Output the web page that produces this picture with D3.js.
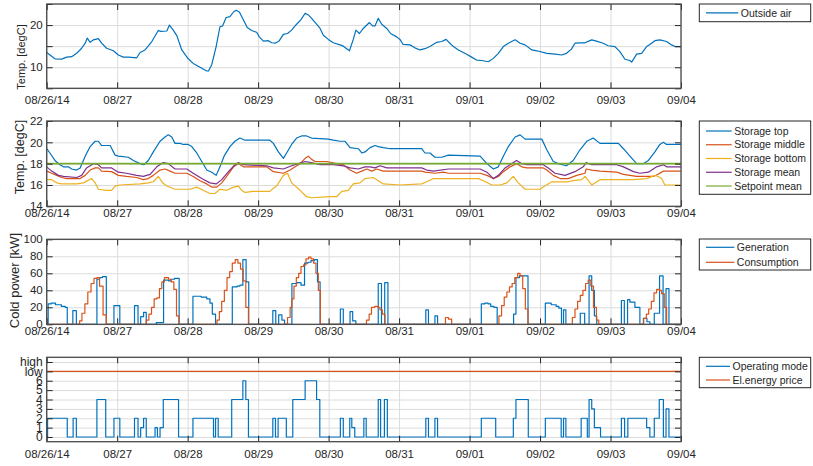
<!DOCTYPE html>
<html>
<head>
<meta charset="utf-8">
<script src="https://cdn.jsdelivr.net/npm/d3@7"></script>
<style>
  body { margin: 0; background: #fff; }
  svg { display: block; font-family: Arial, "Liberation Sans", sans-serif; }
</style>
</head>
<body>
<div id="chart"></div>
<script>
/**
 * Cold storage week overview - four stacked MATLAB-style panels
 * Time values are hours after 08/26/14 00:00.
 */

// X axis day ticks
const dayLabels = ['08/26/14', '08/27', '08/28', '08/29', '08/30', '08/31', '09/01', '09/02', '09/03', '09/04'];

// Panel 1: outside air [hour, degC]
const outsideAir = [[0,13.5],[2.8,12.0],[5.1,11.9],[5.7,12.1],[6.8,12.4],[8.5,12.5],[10.2,13.3],[11.9,14.5],[13.1,15.7],[13.8,16.9],[14.8,15.9],[15.9,16.5],[17.6,16.8],[18.7,15.7],[20.4,14.5],[22.7,13.9],[24.4,12.9],[26.1,12.4],[27.8,12.4],[30.6,12.2],[31.8,13.5],[33.5,14.1],[35.8,16.1],[36.9,17.4],[38.0,18.7],[38.9,18.5],[40.9,18.6],[41.8,20.0],[43.1,18.8],[44.3,17.5],[46.0,14.1],[48.2,12.0],[49.9,10.9],[52.2,10.0],[54.5,9.1],[55.1,9.1],[56.2,10.6],[57.7,14.9],[59.0,19.6],[59.9,19.8],[61.1,21.8],[62.4,22.0],[63.6,23.1],[64.5,23.5],[65.6,23.1],[67.0,21.2],[68.3,19.4],[69.8,18.7],[71.5,18.3],[72.4,17.2],[73.8,16.2],[75.5,16.3],[76.6,15.8],[77.8,15.7],[79.1,16.2],[80.6,17.8],[82.0,18.0],[83.4,18.8],[85.1,20.2],[86.6,21.3],[88.0,22.8],[89.1,22.4],[90.2,21.6],[91.9,20.2],[93.1,19.2],[94.2,17.6],[95.9,16.6],[97.6,15.8],[99.9,15.3],[101.0,15.0],[103.1,13.9],[104.4,16.6],[105.3,18.8],[106.5,18.0],[107.8,19.2],[109.9,20.6],[111.0,19.8],[111.8,19.8],[112.9,21.6],[114.1,20.2],[115.8,19.2],[117.1,18.0],[119.2,17.2],[120.3,16.6],[121.4,15.4],[123.7,15.3],[125.4,14.6],[127.1,14.1],[128.8,14.4],[130.5,14.9],[132.8,15.9],[134.5,16.1],[136.0,16.6],[137.3,15.7],[138.5,14.9],[140.2,14.1],[143.0,13.1],[144.7,12.4],[146.4,11.7],[148.1,11.6],[150.4,11.3],[152.1,12.1],[153.8,13.3],[155.5,14.9],[157.2,15.7],[159.5,16.5],[161.2,15.7],[162.9,15.3],[165.2,14.1],[166.9,13.9],[170.3,13.3],[173.2,13.1],[175.3,12.9],[177.0,13.3],[178.7,14.3],[179.9,15.7],[181.6,15.8],[183.3,15.8],[185.6,16.5],[187.2,16.2],[189.5,15.7],[191.2,15.1],[193.5,14.9],[195.2,13.7],[196.9,11.9],[198.6,11.6],[199.2,11.2],[200.9,13.1],[202.6,13.3],[204.3,14.9],[205.4,15.4],[207.1,16.3],[208.8,16.5],[211.1,16.1],[212.8,15.3],[214.0,14.9],[216.0,14.9]];

// Panel 2: storage temperatures [hour, degC]
const storageTop = [[0,19.4],[1.1,19.0],[2.8,18.3],[4.5,17.9],[5.7,17.7],[7.4,17.7],[8.5,17.5],[10.2,17.4],[11.4,17.6],[13.1,18.7],[14.8,19.6],[16.5,20.1],[17.6,20.1],[18.7,19.7],[21.6,19.7],[23.3,18.8],[24.4,18.7],[27.8,18.6],[29.5,18.3],[31.8,18.0],[33.1,17.9],[34.6,18.3],[36.3,19.1],[38.6,20.1],[40.3,20.5],[41.4,20.7],[42.6,20.5],[43.7,19.9],[45.4,19.9],[46.5,19.8],[48.2,19.8],[49.4,19.6],[51.1,19.0],[52.8,18.2],[54.5,17.4],[56.2,17.2],[57.7,16.9],[59.0,17.7],[60.4,18.7],[62.4,19.6],[64.1,20.1],[65.8,20.4],[67.5,20.2],[76.0,20.2],[77.2,19.9],[78.9,19.1],[80.6,18.5],[81.7,19.0],[83.4,19.8],[85.1,20.4],[86.8,20.6],[88.5,20.6],[90.2,20.4],[95.9,20.3],[97.6,20.2],[99.9,20.1],[101.6,20.1],[103.3,19.5],[106.1,19.4],[107.3,19.0],[108.4,19.1],[110.1,19.5],[111.8,19.7],[112.9,19.6],[114.6,19.5],[116.9,19.4],[127.7,19.4],[128.8,19.0],[130.5,19.0],[132.2,18.6],[134.5,18.6],[136.8,18.8],[147.6,18.7],[149.9,18.0],[152.1,17.5],[153.8,17.7],[155.5,18.7],[157.2,19.6],[159.5,20.5],[161.2,20.7],[162.9,20.3],[168.6,20.3],[170.3,19.3],[172.5,18.2],[174.2,18.0],[177.0,17.8],[179.3,18.3],[181.6,19.3],[183.9,20.1],[186.1,20.4],[188.4,19.9],[194.7,19.9],[196.4,19.4],[198.6,18.7],[200.9,18.0],[203.2,18.0],[204.9,18.3],[207.1,19.1],[208.8,19.8],[210.0,20.0],[211.1,19.8],[216.0,19.8]];
const storageMiddle = [[0,17.3],[1.7,17.1],[3.4,16.9],[5.1,16.7],[6.8,16.6],[11.4,16.6],[13.1,16.9],[14.8,17.4],[16.5,17.6],[17.6,17.6],[18.7,17.3],[22.1,17.25],[24.4,16.9],[27.2,16.8],[30.6,16.7],[32.9,16.5],[34.6,16.6],[36.3,16.9],[38.6,17.4],[40.3,17.5],[42.0,17.3],[43.7,17.1],[47.7,17.1],[49.9,16.8],[52.2,16.4],[54.5,16.1],[56.2,15.8],[57.9,15.8],[59.6,16.2],[61.3,16.8],[63.6,17.7],[65.3,18.0],[67.0,17.7],[74.9,17.7],[77.2,17.25],[80.6,17.1],[82.9,17.4],[84.6,17.7],[86.3,18.0],[88.0,18.5],[89.1,18.7],[90.2,18.4],[91.4,18.2],[95.3,18.2],[98.7,18.0],[101.0,17.9],[103.3,17.4],[105.5,17.1],[107.3,17.3],[109.0,17.5],[110.7,17.3],[112.4,17.5],[114.6,17.3],[127.7,17.3],[128.8,17.2],[132.2,17.1],[135.1,17.2],[136.8,17.1],[147.6,17.1],[149.9,16.9],[152.1,16.6],[153.8,16.8],[155.5,17.25],[157.8,17.7],[160.0,18.0],[161.8,17.7],[163.5,17.6],[169.1,17.6],[170.3,17.4],[172.5,16.9],[174.8,16.6],[177.6,16.6],[180.5,16.9],[183.3,17.1],[183.7,17.5],[185.6,17.4],[188.4,17.3],[194.1,17.2],[196.4,17.0],[198.6,16.9],[200.9,16.8],[204.3,16.8],[206.6,16.8],[208.2,17.0],[210.0,17.3],[216.0,17.3]];
const storageBottom = [[0,16.5],[1.7,16.5],[3.4,16.2],[5.1,16.1],[10.2,16.1],[12.5,16.2],[15.3,16.6],[16.5,16.2],[17.6,15.6],[20.4,15.5],[22.1,15.5],[23.3,15.9],[25.0,16.0],[31.8,16.1],[34.6,16.2],[36.3,16.3],[38.0,16.8],[39.5,16.2],[40.9,15.9],[43.7,15.6],[48.8,15.6],[51.1,15.8],[53.3,15.5],[55.6,15.2],[57.3,15.2],[59.0,15.6],[61.3,15.5],[63.6,15.8],[65.3,15.9],[66.4,15.5],[67.5,15.3],[70.4,15.4],[76.0,15.4],[77.2,15.7],[78.3,15.9],[80.6,16.9],[82.0,17.1],[83.4,16.2],[86.3,15.5],[88.5,14.9],[90.2,14.8],[96.5,14.9],[98.7,14.9],[100.5,15.4],[102.7,15.5],[104.4,16.1],[106.7,16.2],[108.4,16.6],[111.2,16.7],[112.4,16.5],[114.6,16.1],[120.3,16.0],[127.7,16.1],[129.4,16.3],[131.7,16.6],[147.0,16.6],[148.7,16.4],[151.6,16.0],[154.4,16.0],[156.7,16.2],[158.9,16.8],[160.6,16.2],[162.9,15.6],[168.0,15.6],[169.1,15.8],[172.0,16.3],[177.6,16.3],[179.3,16.4],[182.2,16.5],[183.3,16.8],[185.6,16.0],[188.4,16.5],[199.8,16.5],[204.3,16.6],[207.1,16.9],[208.2,16.8],[209.4,16.6],[210.5,16.0],[216.0,16.0]];
const storageMean = [[0,17.7],[1.7,17.3],[4.0,16.9],[5.7,16.8],[10.2,16.7],[11.9,16.9],[13.6,17.6],[15.9,18.0],[17.6,17.9],[18.7,17.6],[22.1,17.6],[24.4,17.2],[27.2,17.1],[30.6,16.9],[32.9,16.8],[35.2,17.0],[37.5,17.7],[39.7,18.1],[41.4,18.0],[43.7,17.5],[47.7,17.5],[49.9,17.1],[52.8,16.6],[55.6,16.2],[57.7,16.1],[59.6,16.5],[61.9,17.25],[64.1,17.9],[65.3,18.1],[67.0,17.9],[74.9,17.8],[77.2,17.6],[80.6,17.5],[83.4,17.8],[85.7,18.0],[88.0,18.2],[90.2,18.1],[93.1,17.9],[97.6,17.9],[101.0,17.8],[103.3,17.6],[106.1,17.5],[108.4,17.7],[110.1,17.7],[111.8,17.6],[113.5,17.8],[115.8,17.6],[127.7,17.6],[129.4,17.4],[131.7,17.3],[136.8,17.5],[147.6,17.5],[149.9,17.2],[152.1,16.6],[153.8,16.9],[156.1,17.6],[158.3,18.0],[160.0,18.3],[161.8,18.0],[163.5,17.9],[169.1,17.9],[170.8,17.6],[173.1,17.1],[176.5,16.9],[179.9,17.25],[182.7,17.7],[183.7,18.1],[185.6,17.9],[194.1,17.9],[196.4,17.7],[199.8,17.25],[202.0,17.1],[204.9,17.2],[207.7,17.7],[210.0,17.9],[211.1,17.7],[216.0,17.7]];
const setpointMean = [[0,18],[216,18]];

// Panel 3: cold power, step change points [hour, kW]
const generation = [[0,0],[0.5,24],[1.5,25],[3.0,23],[5.0,21],[6.3,20],[7.0,0],[8.9,16],[10.1,0],[17.1,53],[18.0,55],[19.0,56],[20.3,0],[22.9,22],[24.9,0],[29.9,22],[31.1,0],[32.0,9],[33.0,14],[33.9,0],[37.3,2],[39.8,52],[41.5,51],[42.4,53],[43.5,54],[45.1,0],[49.8,33],[52.6,32],[54.5,30],[55.6,25],[56.4,12],[57.5,0],[63.2,44],[64.8,45],[65.8,46],[66.8,76],[67.9,50],[68.8,0],[77.0,16],[78.0,0],[79.0,11],[80.1,5],[81.0,0],[83.5,48],[85.2,49],[86.6,46],[87.8,72],[89.0,73],[90.0,75],[91.2,76],[92.2,50],[93.1,0],[100.0,18],[101.0,0],[103.3,15],[104.2,4],[105.3,0],[112.9,48],[114.0,0],[115.1,49],[116.2,0],[129.1,17],[130.0,0],[132.2,10],[133.1,0],[148.0,24],[149.2,25],[150.3,24],[151.2,21],[152.3,20],[153.4,0],[159.0,12],[159.8,55],[161.0,57],[163.9,0],[169.8,25],[171.8,23],[173.5,21],[174.4,19],[175.3,0],[176.0,17],[176.8,0],[181.7,13],[183.2,0],[184.7,57],[185.6,40],[186.5,10],[187.3,0],[195.7,28],[196.7,0],[197.8,29],[198.6,26],[200.3,20],[202.0,0],[203.2,7],[204.4,3],[205.4,0],[206.9,13],[208.7,57],[209.9,0],[210.9,42],[211.9,0],[216,0]];
const consumption = [[0,0],[11.2,4],[12.0,13],[13.0,24],[14.0,38],[15.1,48],[16.1,54],[17.1,55],[18.0,45],[19.2,11],[20.3,0],[33.9,5],[34.8,12],[35.7,20],[36.6,30],[37.5,31],[38.4,42],[39.2,50],[40.1,55],[41.5,53],[42.4,50],[43.3,41],[44.2,10],[45.0,0],[58.0,5],[58.8,15],[59.6,27],[60.5,40],[61.4,55],[62.3,62],[63.2,72],[64.2,76],[65.1,72],[66.0,65],[66.9,51],[67.8,20],[68.7,0],[82.0,8],[82.9,20],[83.5,30],[84.2,45],[85.0,55],[85.8,60],[86.6,68],[87.5,70],[88.3,77],[89.2,79],[90.0,77],[90.9,72],[91.7,60],[92.5,40],[93.2,0],[108.9,5],[109.8,12],[110.6,20],[111.7,21],[112.9,20],[113.5,17],[114.3,12],[115.2,0],[135.8,8],[136.8,6],[137.9,0],[154.0,10],[154.9,22],[155.8,32],[156.7,38],[157.6,44],[158.5,48],[159.4,55],[160.4,60],[161.2,57],[162.1,42],[163.0,18],[163.9,0],[179.0,8],[179.9,18],[180.8,27],[181.7,34],[182.6,40],[183.5,48],[184.4,52],[185.3,45],[186.2,20],[187.2,5],[188.0,0],[203.3,7],[204.2,12],[205.0,18],[205.9,27],[206.8,37],[207.7,41],[208.6,40],[209.4,36],[210.3,20],[211.1,0],[216,0]];

// Panel 4: operating mode steps [hour, mode] and price level (7 = low)
const operatingMode = [[0,0],[0.3,2],[7.0,0],[9.0,2],[10.1,0],[17.1,4],[20.1,0],[22.9,2],[24.9,0],[29.9,2],[31.1,0],[32.0,1],[33.0,2],[33.9,0],[36.9,1],[37.7,0],[38.6,1],[39.7,4],[44.9,0],[49.8,2],[56.8,0],[57.5,2],[58.4,0],[63.0,4],[66.8,6],[67.8,4],[68.7,0],[77.0,2],[77.9,0],[78.8,2],[81.6,0],[83.8,4],[88.0,6],[91.9,4],[93.0,0],[100.0,2],[101.0,0],[103.2,2],[103.9,1],[104.9,0],[108.0,2],[108.8,0],[112.9,4],[113.7,0],[115.0,4],[116.0,0],[129.1,2],[130.0,0],[132.2,2],[133.1,0],[148.0,2],[152.9,0],[158.9,2],[159.8,4],[164.0,0],[169.8,2],[175.2,0],[176.0,2],[176.8,0],[182.0,2],[184.1,0],[184.7,4],[185.6,3],[186.5,1],[188.6,0],[195.7,2],[196.8,0],[197.9,2],[204.3,1],[205.4,0],[206.9,2],[208.6,4],[210.0,0],[210.9,3],[211.9,0],[216,0]];
const energyPrice = [[0,7],[216,7]];
const modeTickLabels = ['0', '1', '2', '3', '4', '5', '6', 'low', 'high'];

// Legend texts
const airLegend = ['Outside air'];
const storageLegend = ['Storage top', 'Storage middle', 'Storage bottom', 'Storage mean', 'Setpoint mean'];
const powerLegend = ['Generation', 'Consumption'];
const modeLegend = ['Operating mode', 'El.energy price'];

// MATLAB default colour order
const C = { blue: '#0072BD', red: '#D95319', yellow: '#EDB120', purple: '#7E2F8E', green: '#77AC30' };
const AX = '#262626';

const width = 813;
const height = 466;
const plotLeft = 46.7;
const plotRight = 681;

const svg = d3.select('#chart').append('svg')
  .attr('width', width)
  .attr('height', height)
  .attr('viewBox', `0 0 ${width} ${height}`);

const start = new Date(2014, 7, 26);
const end = new Date(2014, 8, 4);
const toDate = h => new Date(start.getTime() + h * 3600e3);
const dayTicks = d3.timeDay.range(start, d3.timeDay.offset(end, 1));

const x = d3.scaleTime()
  .domain([start, end])
  .range([plotLeft, plotRight]);

let clipId = 0;

/* Draw one boxed panel with grid, inward ticks, series and legend */
function drawPanel(cfg) {
  const top = cfg.top;
  const bottom = cfg.top + cfg.height;
  const g = svg.append('g');

  const y = d3.scaleLinear()
    .domain(cfg.yDomain)
    .range([bottom, top]);

  // Grid
  g.append('g')
    .attr('transform', `translate(0,${bottom})`)
    .call(d3.axisBottom(x).tickValues(dayTicks).tickSize(-cfg.height).tickFormat(''))
    .call(s => s.select('.domain').remove())
    .selectAll('line').attr('stroke', '#dcdcdc');

  g.append('g')
    .attr('transform', `translate(${plotLeft},0)`)
    .call(d3.axisLeft(y).tickValues(cfg.yTicks).tickSize(-(plotRight - plotLeft)).tickFormat(''))
    .call(s => s.select('.domain').remove())
    .selectAll('line').attr('stroke', '#dcdcdc');

  // Series
  const id = 'clip' + (clipId++);
  g.append('clipPath').attr('id', id)
    .append('rect')
    .attr('x', plotLeft).attr('y', top)
    .attr('width', plotRight - plotLeft).attr('height', cfg.height);

  const plot = g.append('g').attr('clip-path', `url(#${id})`);
  cfg.series.forEach(s => {
    const line = d3.line()
      .x(d => x(toDate(d[0])))
      .y(d => y(d[1]))
      .curve(s.step ? d3.curveStepAfter : d3.curveLinear);
    plot.append('path')
      .datum(s.data)
      .attr('fill', 'none')
      .attr('stroke', s.color)
      .attr('stroke-width', s.width || 1.2)
      .attr('stroke-linejoin', 'round')
      .attr('d', line);
  });

  // Inward ticks on all four sides
  const tick = 6;
  const xAxis = g.append('g')
    .attr('transform', `translate(0,${bottom})`)
    .call(d3.axisBottom(x).tickValues(dayTicks).tickSizeInner(-tick).tickSizeOuter(0)
      .tickPadding(cfg.xPad)
      .tickFormat((d, i) => dayLabels[i]));
  xAxis.select('.domain').remove();
  xAxis.selectAll('line').attr('stroke', AX);
  xAxis.selectAll('text').attr('fill', AX).attr('font-size', '11.5px');

  const topAxis = g.append('g')
    .attr('transform', `translate(0,${top})`)
    .call(d3.axisTop(x).tickValues(dayTicks).tickSizeInner(-tick).tickSizeOuter(0).tickFormat(''));
  topAxis.select('.domain').remove();
  topAxis.selectAll('line').attr('stroke', AX);

  const yAxis = g.append('g')
    .attr('transform', `translate(${plotLeft},0)`)
    .call(d3.axisLeft(y).tickValues(cfg.yTicks).tickSizeInner(-tick).tickSizeOuter(0)
      .tickPadding(4).tickFormat(cfg.yFormat));
  yAxis.select('.domain').remove();
  yAxis.selectAll('line').attr('stroke', AX);
  yAxis.selectAll('text').attr('fill', AX).attr('font-size', cfg.yFont || '11.5px');

  const rightAxis = g.append('g')
    .attr('transform', `translate(${plotRight},0)`)
    .call(d3.axisRight(y).tickValues(cfg.yTicks).tickSizeInner(-tick).tickSizeOuter(0).tickFormat(''));
  rightAxis.select('.domain').remove();
  rightAxis.selectAll('line').attr('stroke', AX);

  // Box
  g.append('rect')
    .attr('x', plotLeft).attr('y', top)
    .attr('width', plotRight - plotLeft).attr('height', cfg.height)
    .attr('fill', 'none')
    .attr('stroke', '#4a4a4a')
    .attr('stroke-width', 1.3);

  // Y label
  if (cfg.ylabel) {
    g.append('text')
      .attr('transform', `translate(${cfg.ylabel.x},${cfg.ylabel.y}) rotate(-90)`)
      .attr('text-anchor', 'middle')
      .attr('dominant-baseline', 'central')
      .attr('fill', AX)
      .attr('font-size', cfg.ylabel.size)
      .text(cfg.ylabel.text);
  }

  // Legend
  const lg = cfg.legend;
  const lgBox = g.append('g');
  lgBox.append('rect')
    .attr('x', 699.3).attr('y', lg.top)
    .attr('width', 111.4).attr('height', lg.height)
    .attr('fill', '#fff')
    .attr('stroke', AX)
    .attr('stroke-width', 1);
  const rows = lgBox.selectAll('.lg-row')
    .data(lg.labels)
    .enter()
    .append('g')
    .attr('class', 'lg-row')
    .attr('transform', (d, i) => `translate(0,${lg.first + i * lg.step})`);
  rows.append('line')
    .attr('x1', 706).attr('x2', lg.lineEnd)
    .attr('stroke', (d, i) => cfg.series[i].color)
    .attr('stroke-width', 1.2);
  rows.append('text')
    .attr('x', lg.lineEnd + 2.5)
    .attr('dy', '0.35em')
    .attr('fill', AX)
    .attr('font-size', '10.5px')
    .text(d => d);
}

// 1. Outside air
drawPanel({
  top: 4, height: 84.3, yDomain: [5, 25], yTicks: [5, 10, 15, 20, 25],
  yFormat: d => (d === 10 || d === 20) ? d : '',
  xPad: 8,
  ylabel: { text: 'Temp. [degC]', x: 20.5, y: 57, size: '11px' },
  series: [{ data: outsideAir, color: C.blue }],
  legend: { labels: airLegend, top: 4, height: 17.7, first: 12.9, step: 0, lineEnd: 738.3 }
});

// 2. Storage temperatures
drawPanel({
  top: 121, height: 85.3, yDomain: [14, 22], yTicks: [14, 16, 18, 20, 22],
  yFormat: d => d,
  xPad: 2.5,
  ylabel: { text: 'Temp. [degC]', x: 19.7, y: 157, size: '12.5px' },
  series: [
    { data: storageTop, color: C.blue },
    { data: storageMiddle, color: C.red },
    { data: storageBottom, color: C.yellow },
    { data: storageMean, color: C.purple },
    { data: setpointMean, color: C.green, width: 1.6 }
  ],
  legend: { labels: storageLegend, top: 121, height: 73.3, first: 131, step: 13.75, lineEnd: 731.7 }
});

// 3. Cold power
drawPanel({
  top: 239.3, height: 85, yDomain: [0, 100], yTicks: [0, 20, 40, 60, 80, 100],
  yFormat: d => d,
  xPad: 3,
  ylabel: { text: 'Cold power [kW]', x: 14.5, y: 280.5, size: '13px' },
  series: [
    { data: generation, color: C.blue, step: true },
    { data: consumption, color: C.red, step: true }
  ],
  legend: { labels: powerLegend, top: 239, height: 31, first: 247.3, step: 15, lineEnd: 734.3 }
});

// 4. Operating mode and energy price
drawPanel({
  top: 357.3, height: 84.4, yDomain: [-0.5, 8.5], yTicks: d3.range(0, 9),
  yFormat: d => modeTickLabels[d],
  yFont: '12px',
  xPad: 8.5,
  ylabel: null,
  series: [
    { data: operatingMode, color: C.blue, step: true },
    { data: energyPrice, color: C.red }
  ],
  legend: { labels: modeLegend, top: 357.3, height: 30.4, first: 366.3, step: 13.7, lineEnd: 730 }
});
</script>
</body>
</html>
